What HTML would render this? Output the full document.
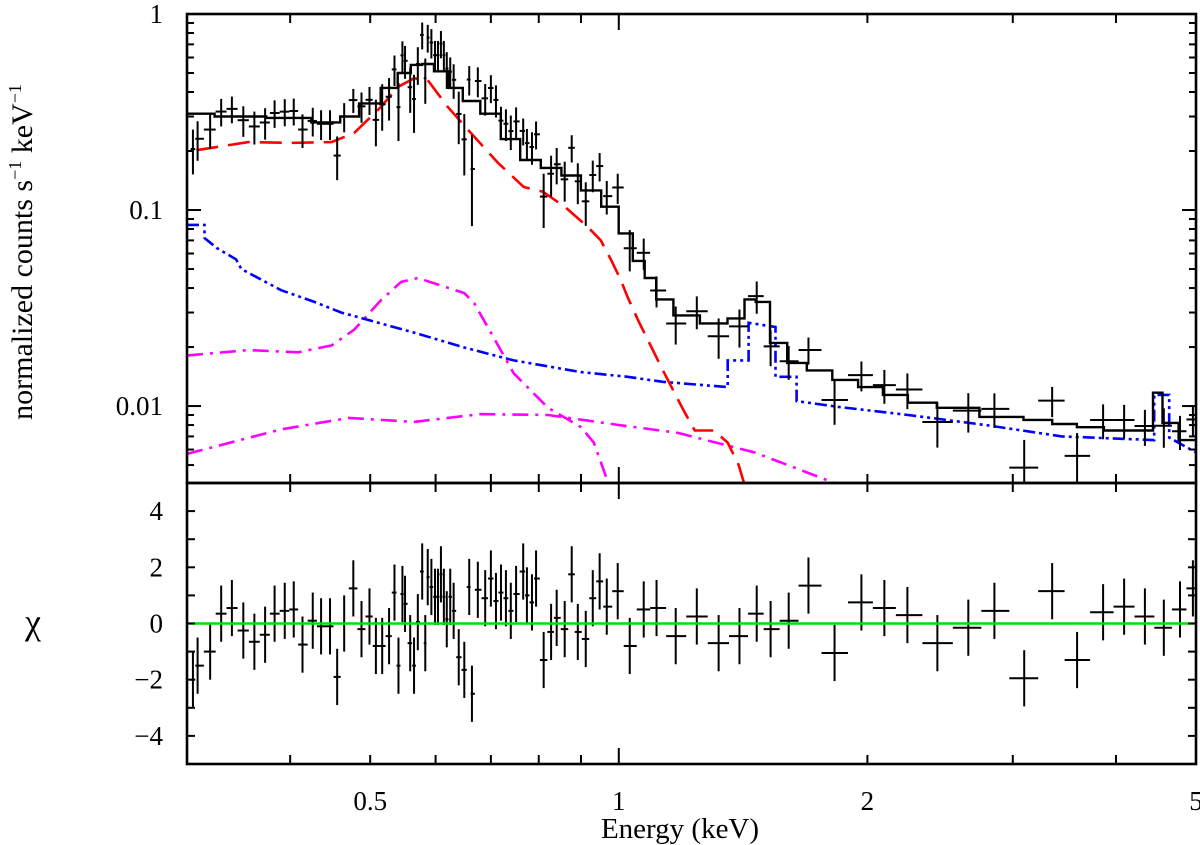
<!DOCTYPE html>
<html><head><meta charset="utf-8"><style>
html,body{margin:0;padding:0;background:#fff;}
svg{display:block;}
text{font-family:"Liberation Serif",serif;fill:#000;}
</style></head><body>
<svg id="chart" width="1200" height="845" viewBox="0 0 1200 845" xmlns="http://www.w3.org/2000/svg">
<g id="top-panel"></g>
<g id="bot-panel"></g>
<g id="axes"></g>
<text x="32" y="252" font-size="30" text-anchor="middle" transform="rotate(-90 32 252)">normalized counts s<tspan font-size="18" dy="-11">−1</tspan><tspan dy="11"> keV</tspan><tspan font-size="18" dy="-11">−1</tspan></text>
<text x="33" y="634" font-size="36" text-anchor="middle">χ</text>
<text x="680" y="838" font-size="29" text-anchor="middle">Energy (keV)</text>
</svg>
<script>
// ---- data ----
var modelE = [0.30,0.35,0.40,0.45,0.47,0.50,0.53,0.55,0.57,0.585,0.61,0.635,0.66,0.70,0.74,0.78,0.83,0.875,0.925,0.98,1.02,1.06,1.09,1.13,1.2,1.31,1.40,1.44,1.49,1.56,1.64,1.74,1.89,2.01,2.17,2.31,2.55,2.93,3.26,3.44,3.74,4.0,4.40,4.47,4.64,4.89,5.0];
var modelV = [0.31,0.30,0.295,0.28,0.30,0.35,0.42,0.50,0.55,0.556,0.51,0.42,0.36,0.31,0.23,0.18,0.164,0.15,0.126,0.104,0.076,0.055,0.045,0.035,0.029,0.0264,0.028,0.035,0.034,0.021,0.0166,0.0152,0.0136,0.0125,0.0114,0.0104,0.0098,0.0088,0.0085,0.0081,0.0078,0.0075,0.0075,0.0117,0.0082,0.0067,0.0067];
var redE = [0.308,0.356,0.401,0.449,0.478,0.515,0.540,0.565,0.587,0.621,0.662,0.714,0.767,0.809,0.860,0.917,0.951,0.978,1.003,1.025,1.057,1.13,1.198,1.236,1.304,1.355,1.397,1.424];
var redV = [0.202,0.222,0.22,0.222,0.247,0.335,0.424,0.47,0.46,0.335,0.247,0.174,0.131,0.124,0.104,0.082,0.070,0.056,0.045,0.036,0.027,0.0153,0.0095,0.0075,0.0075,0.0065,0.005,0.0038];
var blueE = [0.30,0.315,0.315,0.326,0.344,0.349,0.39,0.428,0.461,0.497,0.565,0.65,0.746,0.9,1.025,1.13,1.355,1.355,1.436,1.436,1.548,1.548,1.642,1.642,1.845,2.242,2.778,3.44,4.45,4.45,4.64,4.64,5.0];
var blueV = [0.084,0.084,0.072,0.064,0.056,0.050,0.039,0.034,0.030,0.0275,0.0237,0.0199,0.0171,0.0149,0.0141,0.0133,0.0125,0.0171,0.0171,0.0266,0.0253,0.0141,0.0141,0.0106,0.0099,0.0090,0.0080,0.0070,0.0067,0.0114,0.0114,0.0069,0.0058];
var mag1E = [0.30,0.356,0.409,0.449,0.478,0.515,0.545,0.571,0.650,0.668,0.700,0.746,0.821,0.900,0.933,0.970];
var mag1V = [0.0181,0.0193,0.0188,0.0204,0.0245,0.0346,0.043,0.045,0.0377,0.0335,0.0237,0.0147,0.0098,0.0078,0.0065,0.0041];
var mag2E = [0.30,0.390,0.471,0.565,0.680,0.821,1.0,1.178,1.460,1.840];
var mag2V = [0.0057,0.0076,0.0087,0.0083,0.0091,0.0090,0.0080,0.0073,0.0058,0.0040];
var resE = [0.305,0.309,0.320,0.330,0.340,0.351,0.362,0.373,0.383,0.394,0.404,0.414,0.426,0.436,0.447,0.456,0.465,0.477,0.488,0.499,0.508,0.517,0.527,0.535,0.541,0.547,0.551,0.559,0.565,0.571,0.578,0.583,0.587,0.593,0.599,0.604,0.609,0.614,0.619,0.625,0.631,0.640,0.650,0.659,0.664,0.675,0.689,0.700,0.710,0.720,0.730,0.740,0.751,0.766,0.774,0.785,0.794,0.811,0.828,0.841,0.860,0.877,0.892,0.912,0.930,0.948,0.967,0.997,1.031,1.072,1.111,1.172,1.243,1.321,1.400,1.469,1.527,1.606,1.697,1.825,1.967,2.097,2.236,2.431,2.650,2.850,3.097,3.348,3.589,3.859,4.092,4.336,4.571,4.782,4.957];
var resChi = [-2.0,-1.5,-1.0,0.35,0.55,-0.25,-0.65,-0.4,0.35,0.45,0.5,-0.75,0.1,-0.1,-0.1,-1.9,0,1.25,-0.2,0.25,-0.8,-0.8,-0.45,1.1,-1.5,1.05,0.7,-0.7,-1.5,0.05,1.85,-0.7,1.65,1.3,0.95,0.95,1.75,0.95,0.15,0.95,0.45,-1.2,-1.65,1.3,-2.5,1.2,0.9,1.6,0.8,1.1,0.9,0.45,1.05,1.85,1.0,0.75,1.6,-1.3,-0.3,0.2,-0.2,1.75,-0.3,-0.55,0.9,1.5,0.6,1.15,-0.8,0.5,0.55,-0.45,0.25,-0.7,-0.45,0.35,-0.2,0.1,1.35,-1.05,0.75,0.55,0.3,-0.7,-0.15,0.45,-1.95,1.15,-1.3,0.4,0.6,0.25,-0.15,0.5,1.25];
var errBandE = [0.3,0.5,1.0,2.0,5.0];
var errBandRel = [0.17,0.22,0.2,0.22,0.24];
var yTopTicks = [1,0.1,0.01];
var yTopLabels = ["1","0.1","0.01"];
var chiTicks = [4,2,0,-2,-4];
var chiLabels = ["4","2","0","−2","−4"];
var xTicks = [0.5,1,2,5];
var xLabels = ["0.5","1","2","5"];

// ---- axes ----
var L=187,R=1196,T=14,M=483,B=764;
var xmin=0.3,xmax=5.0, ytMax=1, ytMin=0.00405, chiMax=5, chiMin=-5;
function X(e){return L+(Math.log10(e)-Math.log10(xmin))/(Math.log10(xmax)-Math.log10(xmin))*(R-L);}
function YT(v){return T+(Math.log10(ytMax)-Math.log10(v))/(Math.log10(ytMax)-Math.log10(ytMin))*(M-T);}
function YB(c){return M+(chiMax-c)/(chiMax-chiMin)*(B-M);}
var NS="http://www.w3.org/2000/svg";
function mk(tag,attrs,parent){var el=document.createElementNS(NS,tag);for(var k in attrs)el.setAttribute(k,attrs[k]);parent.appendChild(el);return el;}
var topG=document.getElementById('top-panel'),botG=document.getElementById('bot-panel'),axG=document.getElementById('axes');

var defs=mk('defs',{},document.getElementById('chart'));
var cp=mk('clipPath',{id:'cpTop'},defs);mk('rect',{x:L,y:T,width:R-L,height:M-T},cp);
var cp2=mk('clipPath',{id:'cpBot'},defs);mk('rect',{x:L,y:M,width:R-L,height:B-M},cp2);
topG.setAttribute('clip-path','url(#cpTop)');
botG.setAttribute('clip-path','url(#cpBot)');

function poly(E,V,color,dash,name){
  var d='';for(var i=0;i<E.length;i++){d+=(i?'L':'M')+X(E[i]).toFixed(1)+','+YT(V[i]).toFixed(1);}
  var p=mk('path',{d:d,fill:'none',stroke:color,'stroke-width':2.6},topG);
  if(dash)p.setAttribute('stroke-dasharray',dash);
  
  
}
poly(mag2E,mag2V,'#ff00ff','16 7 3 7','magenta-component-2');
poly(mag1E,mag1V,'#ff00ff','16 7 3 7','magenta-component-1');
poly(blueE,blueV,'#0000ff','12 4 3 4 3 4','blue-component');
poly(redE,redV,'#ff0000','22 10','red-component');

function modelAt(e){
  var best=0;
  for(var i=0;i<modelE.length;i++){if(Math.abs(Math.log(modelE[i]/e))<Math.abs(Math.log(modelE[best]/e)))best=i;}
  return modelV[best];
}
(function(){
  var d='';
  for(var i=0;i<modelE.length;i++){
    var a=i?Math.sqrt(modelE[i-1]*modelE[i]):modelE[0];
    var b=i<modelE.length-1?Math.sqrt(modelE[i]*modelE[i+1]):modelE[i];
    d+=(i?'L':'M')+X(a).toFixed(1)+','+YT(modelV[i]).toFixed(1)+'L'+X(b).toFixed(1)+','+YT(modelV[i]).toFixed(1);
  }
  var p=mk('path',{d:d,fill:'none',stroke:'#000','stroke-width':2.4},topG);
  
  
})();
function relErr(e){var r=errBandRel[0];for(var i=0;i<errBandE.length;i++){if(e>=errBandE[i])r=errBandRel[i];}return r;}
function halfW(i){
  var lo=i?Math.sqrt(resE[i-1]*resE[i]):resE[0]/Math.sqrt(resE[1]/resE[0]);
  var hi=i<resE.length-1?Math.sqrt(resE[i]*resE[i+1]):resE[i]*Math.sqrt(resE[i]/resE[i-1]);
  return [lo,hi];
}
for(var i=0;i<resE.length;i++){
  var e=resE[i],m=modelAt(e),err=relErr(e)*m,f=m+resChi[i]*err;
  var w=halfW(i),x=X(e);
  var g=mk('g',{stroke:'#000','stroke-width':2},topG);
  
  
  mk('line',{x1:X(w[0]),x2:X(w[1]),y1:YT(f),y2:YT(f)},g);
  mk('line',{x1:x,x2:x,y1:YT(f-err),y2:YT(f+err)},g);
  var g2=mk('g',{stroke:'#000','stroke-width':2},botG);
  
  
  mk('line',{x1:X(w[0]),x2:X(w[1]),y1:YB(resChi[i]),y2:YB(resChi[i])},g2);
  mk('line',{x1:x,x2:x,y1:YB(resChi[i]-1),y2:YB(resChi[i]+1)},g2);
}
var zl=mk('line',{x1:L,x2:R,y1:YB(0),y2:YB(0),stroke:'#00e000','stroke-width':2.6},botG);



[[T,M],[M,B]].forEach(function(r){
  var f=mk('rect',{x:L,y:r[0],width:R-L,height:r[1]-r[0],fill:'none',stroke:'#000','stroke-width':2.6},axG);
  
  
});
function tl(x1,y1,x2,y2){mk('line',{x1:x1,y1:y1,x2:x2,y2:y2,stroke:'#000','stroke-width':2},axG);}
for(var dec=-3;dec<=0;dec++){for(var k=1;k<=9;k++){var v=k*Math.pow(10,dec);if(v>ytMax||v<ytMin)continue;var y=YT(v),len=k==1?14:7;tl(L,y,L+len,y);tl(R,y,R-len,y);}}
yTopTicks.forEach(function(v,i){var t=mk('text',{x:163,y:YT(v)+9,'font-size':27,'text-anchor':'end'},axG);t.textContent=yTopLabels[i];
  
  });
for(var c=-4;c<=4;c++){var y=YB(c);tl(L,y,L+8,y);tl(R,y,R-8,y);}
chiTicks.forEach(function(v,i){var t=mk('text',{x:163,y:YB(v)+9,'font-size':27,'text-anchor':'end'},axG);t.textContent=chiLabels[i];
  
  });
[0.3,0.4,0.5,0.6,0.7,0.8,0.9,1,2,3,4,5].forEach(function(e){var x=X(e),len=e==1?16:9;[T,M].forEach(function(y){tl(x,y,x,y+len);});[M,B].forEach(function(y){tl(x,y,x,y-len);});});
xTicks.forEach(function(e,i){var t=mk('text',{x:X(e),y:810,'font-size':27,'text-anchor':'middle'},axG);t.textContent=xLabels[i];
  
  });
</script>
</body></html>
